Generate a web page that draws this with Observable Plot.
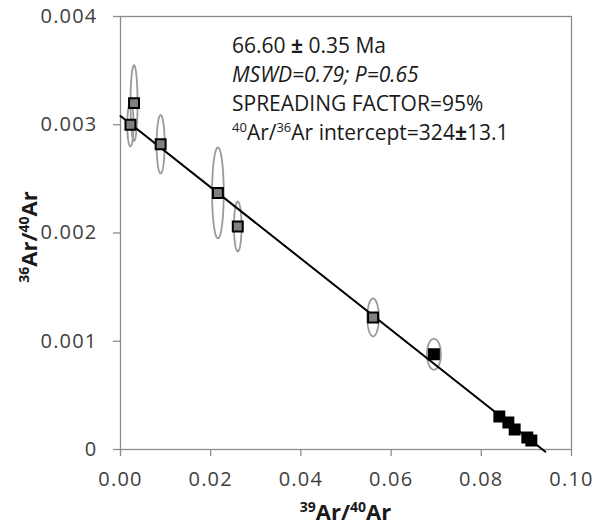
<!DOCTYPE html>
<html>
<head>
<meta charset="utf-8">
<script src="https://cdn.jsdelivr.net/npm/d3@7"></script>
<script src="https://cdn.jsdelivr.net/npm/@observablehq/plot@0.6"></script>
<style>
  html, body { margin: 0; padding: 0; background: #fff; }
  #chart { width: 603px; height: 530px; }
</style>
</head>
<body>
<div id="chart"></div>
<script>
// ---- data ----
const ptX   = [0.0022, 0.0030, 0.0089, 0.0216, 0.0260, 0.0560, 0.0695, 0.0840, 0.0860, 0.0874, 0.0902, 0.0911];
const ptY   = [0.00300, 0.00320, 0.00282, 0.00237, 0.00206, 0.00122, 0.00088, 0.000305, 0.000249, 0.000185, 0.000111, 0.000083];
const ptIncluded = [false, false, false, false, false, false, true, true, true, true, true, true]; // black = filled
const errX  = [0.00070, 0.00078, 0.00089, 0.00129, 0.00084, 0.00129, 0.00155, 0, 0, 0, 0, 0];
const errY  = [0.00020, 0.00035, 0.00027, 0.00042, 0.00023, 0.000175, 0.000143, 0, 0, 0, 0, 0];
const fitX  = [0, 0.0942];
const fitY  = [0.00308, -0.00002];
const xTicks = [0, 0.02, 0.04, 0.06, 0.08, 0.10];
const xTickLabels = ["0.00", "0.02", "0.04", "0.06", "0.08", "0.10"];
const yTicks = [0, 0.001, 0.002, 0.003, 0.004];
const yTickLabels = ["0", "0.001", "0.002", "0.003", "0.004"];

// ---- tables ----
const points = ptX.map((x, i) => ({x, y: ptY[i], inc: ptIncluded[i]}));
const fit = fitX.map((x, i) => ({x, y: fitY[i]}));
const ellipses = [];
ptX.forEach((cx, i) => {
  if (!errX[i]) return;
  for (let k = 0; k < 72; k++) {
    const t = k / 72 * 2 * Math.PI;
    ellipses.push({id: i, x: cx + errX[i] * Math.cos(t), y: ptY[i] + errY[i] * Math.sin(t)});
  }
});

const FONT = "'Open Sans', sans-serif";
const chart = Plot.plot({
  width: 603, height: 530,
  marginLeft: 120, marginRight: 32, marginTop: 16, marginBottom: 81,
  style: {fontFamily: FONT, fontSize: "20px", background: "white", color: "#404040", overflow: "visible"},
  x: {domain: [0, 0.1]},
  y: {domain: [0, 0.004]},
  marks: [
    Plot.frame({stroke: "#8c8c8c", strokeWidth: 1.3}),
    Plot.axisX({ticks: xTicks, tickFormat: d => xTickLabels[xTicks.indexOf(d)], tickSize: 7, tickPadding: 15, label: null, fontSize: 20}),
    Plot.axisY({ticks: yTicks, tickFormat: d => yTickLabels[yTicks.indexOf(d)], tickSize: 7, tickPadding: 16, label: null, fontSize: 20}),
    Plot.line(ellipses, {x: "x", y: "y", z: "id", curve: "linear-closed", stroke: "#9a9a9a", strokeWidth: 1.8}),
    Plot.line(fit, {x: "x", y: "y", stroke: "#000", strokeWidth: 2}),
    Plot.dot(points, {x: "x", y: "y", symbol: "square", r: 5.6, fill: d => d.inc ? "#000" : "#808080", stroke: "#000", strokeWidth: 2})
  ]
});

const svg = d3.select(chart);
svg.selectAll('g[aria-label="x-axis tick"], g[aria-label="y-axis tick"]').attr("stroke", "#8c8c8c").attr("stroke-width", 1.3);
svg.selectAll('g[aria-label="x-axis tick label"] text, g[aria-label="y-axis tick label"] text').attr("letter-spacing", "1.2px");

// annotation
const ann = svg.append("g").attr("font-family", FONT).attr("font-size", 21).attr("fill", "#1a1a1a").attr("text-anchor", "start");
const x0 = 232;
let t = ann.append("text").attr("x", x0).attr("y", 53);
t.append("tspan").text("66.60");
t.append("tspan").attr("font-weight", "bold").text(" ± ");
t.append("tspan").text("0.35 Ma");
ann.append("text").attr("x", x0).attr("y", 82).attr("font-style", "italic").text("MSWD=0.79; P=0.65");
ann.append("text").attr("x", x0).attr("y", 111).text("SPREADING FACTOR=95%");
t = ann.append("text").attr("x", x0).attr("y", 140);
t.append("tspan").attr("font-size", 13).attr("dy", -8).text("40");
t.append("tspan").attr("dy", 8).text("Ar/");
t.append("tspan").attr("font-size", 13).attr("dy", -8).text("36");
t.append("tspan").attr("dy", 8).text("Ar intercept=324");
t.append("tspan").attr("font-weight", "bold").text("±");
t.append("tspan").text("13.1");

// axis titles
const titles = svg.append("g").attr("font-family", FONT).attr("font-weight", "bold").attr("font-size", 22).attr("fill", "#1a1a1a").attr("text-anchor", "middle");
t = titles.append("text").attr("x", 345.5).attr("y", 520);
t.append("tspan").attr("font-size", 14).attr("dy", -8).text("39");
t.append("tspan").attr("dy", 8).text("Ar/");
t.append("tspan").attr("font-size", 14).attr("dy", -8).text("40");
t.append("tspan").attr("dy", 8).text("Ar");
t = titles.append("text").attr("transform", "translate(37,237) rotate(-90)");
t.append("tspan").attr("font-size", 14).attr("dy", -8).text("36");
t.append("tspan").attr("dy", 8).text("Ar/");
t.append("tspan").attr("font-size", 14).attr("dy", -8).text("40");
t.append("tspan").attr("dy", 8).text("Ar");

document.getElementById("chart").appendChild(chart);
</script>
</body>
</html>
